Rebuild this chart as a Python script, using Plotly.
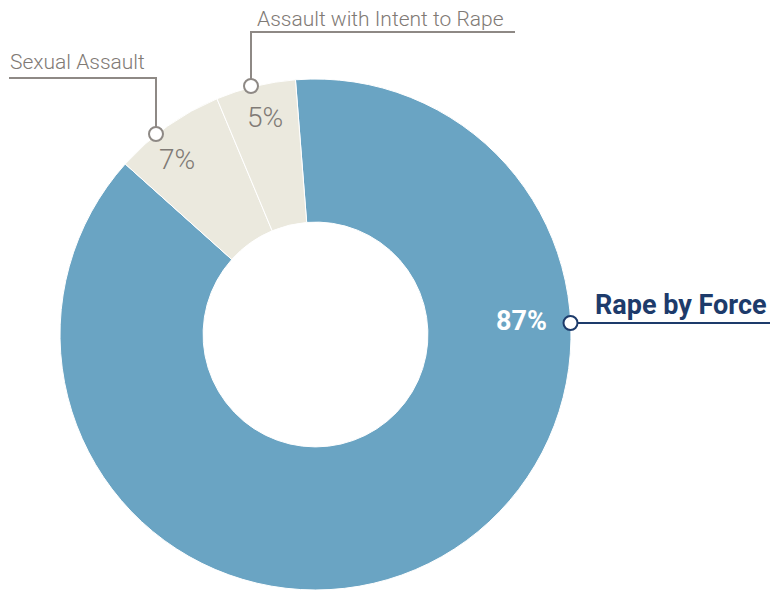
import plotly.graph_objects as go

# Share of offences by category (percent)
categories = ["Rape by Force", "Sexual Assault", "Assault with Intent to Rape"]
shares = [87, 7, 5]
slice_colors = ["#6aa4c3", "#ebe9de", "#ebe9de"]

W, H = 770, 590


def px(x):
    return x / W


def py(y):
    return 1 - y / H


GRAY = "#7f7a75"
LINE_GRAY = "#8e8985"
NAVY = "#1d3b6b"

fig = go.Figure()
fig.add_trace(go.Pie(
    labels=categories,
    values=shares,
    sort=False,
    direction="clockwise",
    rotation=-4.5,
    hole=0.44,
    textinfo="none",
    hoverinfo="label+percent",
    marker=dict(colors=slice_colors, line=dict(color="white", width=1)),
    domain=dict(x=[59.5 / W, 571.5 / W], y=[0, 511 / H]),
    showlegend=False,
))

shapes = []
annotations = []

# leader lines
shapes.append(dict(type="path", xref="paper", yref="paper",
                   path=f"M {px(9)},{py(78)} L {px(156)},{py(78)} L {px(156)},{py(134)}",
                   line=dict(color=LINE_GRAY, width=2)))
shapes.append(dict(type="path", xref="paper", yref="paper",
                   path=f"M {px(515)},{py(32)} L {px(251)},{py(32)} L {px(251)},{py(86)}",
                   line=dict(color=LINE_GRAY, width=2)))
shapes.append(dict(type="line", xref="paper", yref="paper",
                   x0=px(570), y0=py(323), x1=px(770), y1=py(323),
                   line=dict(color=NAVY, width=2)))


def dot(cx, cy, color):
    r = 7
    return dict(type="circle", xref="paper", yref="paper",
                x0=px(cx - r), x1=px(cx + r), y0=py(cy - r), y1=py(cy + r),
                fillcolor="white", line=dict(color=color, width=2))


shapes += [dot(156, 134, LINE_GRAY), dot(251, 86, LINE_GRAY), dot(570.5, 323, NAVY)]

# category names
annotations.append(dict(x=px(8), y=py(62), xref="paper", yref="paper",
                        text=categories[1], showarrow=False,
                        xanchor="left", yanchor="middle",
                        font=dict(family="Roboto", size=21, color=GRAY, weight=300)))
annotations.append(dict(x=px(255), y=py(19), xref="paper", yref="paper",
                        text=categories[2], showarrow=False,
                        xanchor="left", yanchor="middle",
                        font=dict(family="Roboto", size=21, color=GRAY, weight=300)))
annotations.append(dict(x=px(593), y=py(305), xref="paper", yref="paper",
                        text=f"<b>{categories[0]}</b>", showarrow=False,
                        xanchor="left", yanchor="middle",
                        font=dict(family="Roboto", size=27, color=NAVY)))

# percentage values
annotations.append(dict(x=px(549), y=py(321), xref="paper", yref="paper",
                        text=f"<b>{shares[0]}%</b>", showarrow=False,
                        xanchor="right", yanchor="middle",
                        font=dict(family="Roboto", size=27, color="white")))
annotations.append(dict(x=px(176.5), y=py(160), xref="paper", yref="paper",
                        text=f"{shares[1]}%", showarrow=False,
                        xanchor="center", yanchor="middle",
                        font=dict(family="Roboto", size=28, color=GRAY, weight=300)))
annotations.append(dict(x=px(264.5), y=py(118), xref="paper", yref="paper",
                        text=f"{shares[2]}%", showarrow=False,
                        xanchor="center", yanchor="middle",
                        font=dict(family="Roboto", size=28, color=GRAY, weight=300)))

fig.update_layout(
    width=W, height=H,
    margin=dict(l=0, r=0, t=0, b=0),
    paper_bgcolor="white",
    plot_bgcolor="white",
    shapes=shapes,
    annotations=annotations,
)

fig.write_html("out.html")
